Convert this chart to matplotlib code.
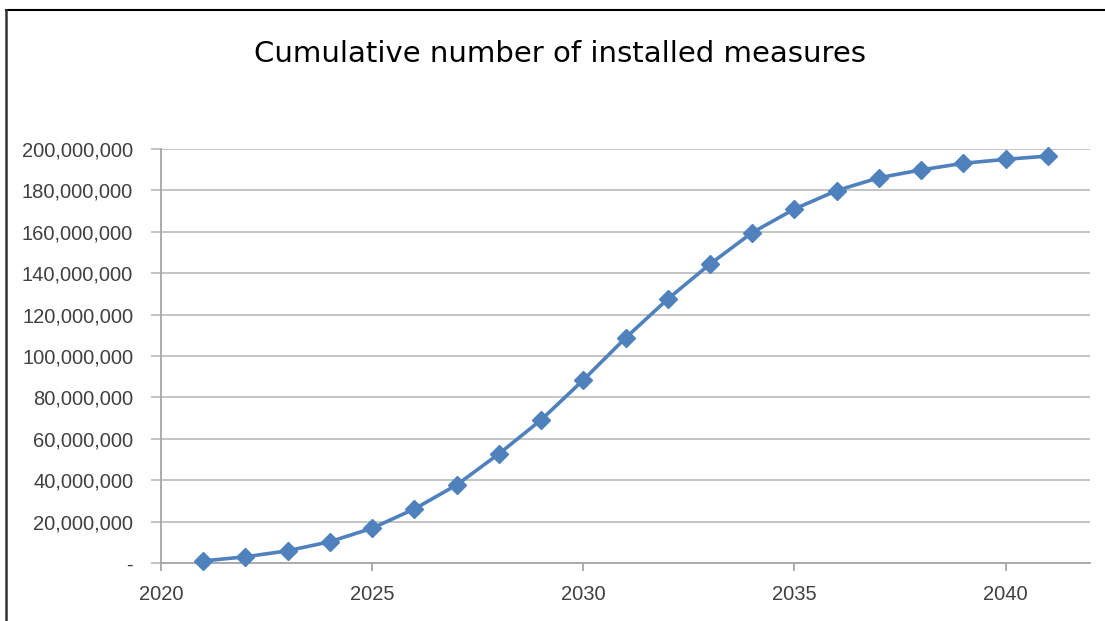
import matplotlib
matplotlib.use("Agg")
import matplotlib.pyplot as plt
from matplotlib.lines import Line2D
from matplotlib.ticker import FuncFormatter

years = [2021, 2022, 2023, 2024, 2025, 2026, 2027, 2028, 2029, 2030, 2031,
         2032, 2033, 2034, 2035, 2036, 2037, 2038, 2039, 2040, 2041]
installed = [1.0e6, 3.0e6, 5.9e6, 10.3e6, 16.8e6, 26.1e6, 37.7e6, 52.7e6, 69.1e6,
             88.4e6, 108.7e6, 127.5e6, 144.4e6, 159.6e6, 171.0e6, 179.9e6,
             186.1e6, 189.9e6, 193.1e6, 195.0e6, 196.6e6]
x_ticks = [2020, 2025, 2030, 2035, 2040]
y_ticks = [0, 20e6, 40e6, 60e6, 80e6, 100e6, 120e6, 140e6, 160e6, 180e6, 200e6]
title = "Cumulative number of installed measures"

W, H = 1105, 621
fig = plt.figure(figsize=(W / 100, H / 100), dpi=100)
ax = fig.add_axes([161 / W, 1 - 563 / H, (1090 - 161) / W, (563 - 149) / H])

ax.plot(years, installed, color="#4F81BD", linewidth=2.6, marker="D",
        markersize=9, markerfacecolor="#4F81BD", markeredgecolor="#4F81BD",
        zorder=3, clip_on=False)

ax.set_xlim(2020, 2042)
ax.set_ylim(0, 200e6)
ax.set_xticks(x_ticks)
ax.set_yticks(y_ticks)

def fmt(v, pos):
    if v == 0:
        return "-"
    return f"{int(round(v)):,}"

ax.yaxis.set_major_formatter(FuncFormatter(fmt))
ax.grid(axis="y", color="#BFBFBF", linewidth=1.3)
ax.set_axisbelow(True)
for s in ["top", "right"]:
    ax.spines[s].set_visible(False)
for s in ["left", "bottom"]:
    ax.spines[s].set_color("#A6A6A6")
    ax.spines[s].set_linewidth(1.3)

ax.tick_params(axis="y", length=7, width=1.3, color="#BFBFBF", pad=13,
               labelsize=14.5, labelcolor="#404040")
ax.tick_params(axis="x", length=6, width=1.3, color="#A6A6A6", pad=10,
               labelsize=14.5, labelcolor="#404040")
for lab in ax.get_xticklabels() + ax.get_yticklabels():
    lab.set_fontfamily("Liberation Sans")

fig.text(560 / W, 1 - 54 / H, title, ha="center", va="center",
         fontsize=21, color="#000000", fontfamily="DejaVu Sans")

fig.add_artist(Line2D([6 / W, 1.0], [1 - 10 / H, 1 - 10 / H],
                      transform=fig.transFigure, color="#000000", linewidth=1.5))
fig.add_artist(Line2D([6 / W, 6 / W], [1 - 10 / H, 0.0],
                      transform=fig.transFigure, color="#333333", linewidth=1.8))

fig.savefig("out.png", dpi=100)
